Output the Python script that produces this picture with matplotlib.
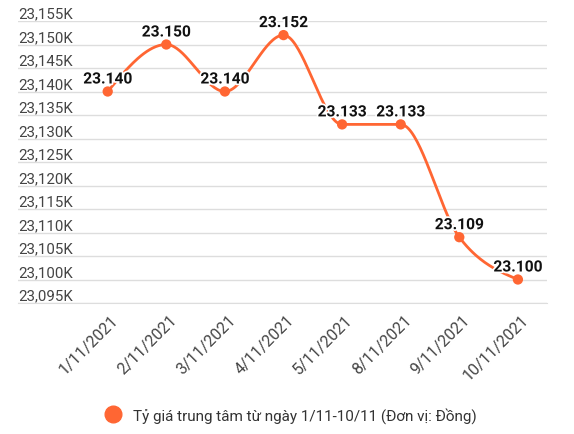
import numpy as np
import matplotlib
matplotlib.use("Agg")
import matplotlib.pyplot as plt
from matplotlib.transforms import ScaledTranslation
import matplotlib.patheffects as pe
from matplotlib.lines import Line2D

plt.rcParams['font.family'] = ['Roboto', 'DejaVu Sans']

categories = ["1/11/2021", "2/11/2021", "3/11/2021", "4/11/2021",
              "5/11/2021", "8/11/2021", "9/11/2021", "10/11/2021"]
values = [23140, 23150, 23140, 23152, 23133, 23133, 23109, 23100]
point_labels = ["23.140", "23.150", "23.140", "23.152", "23.133", "23.133", "23.109", "23.100"]
yticks = [23095, 23100, 23105, 23110, 23115, 23120, 23125, 23130,
          23135, 23140, 23145, 23150, 23155]
series_name = "Tỷ giá trung tâm từ ngày 1/11-10/11 (Đơn vị: Đồng)"

COLOR = "#ff6633"


def monotone_x(x, y, n=40):
    x = np.asarray(x, float)
    y = np.asarray(y, float)
    k = len(x)
    h = np.diff(x)
    s = np.diff(y) / h
    t = np.zeros(k)
    for i in range(1, k - 1):
        s0, s1 = s[i - 1], s[i]
        p = (s0 * h[i] + s1 * h[i - 1]) / (h[i - 1] + h[i])
        t[i] = (np.sign(s0) + np.sign(s1)) * min(abs(s0), abs(s1), 0.5 * abs(p))
    t[0] = (3 * s[0] - t[1]) / 2
    t[-1] = (3 * s[-1] - t[-2]) / 2
    xs, ys = [], []
    for i in range(k - 1):
        u = np.linspace(0, 1, n)
        dx = h[i]
        h00 = 2 * u**3 - 3 * u**2 + 1
        h10 = u**3 - 2 * u**2 + u
        h01 = -2 * u**3 + 3 * u**2
        h11 = u**3 - u**2
        yy = h00 * y[i] + h10 * dx * t[i] + h01 * y[i + 1] + h11 * dx * t[i + 1]
        xs.append(x[i] + u * dx)
        ys.append(yy)
    return np.concatenate(xs), np.concatenate(ys)


W, H = 574, 435
fig = plt.figure(figsize=(W / 100, H / 100), dpi=100)
left, right, top, bottom = 18, 547, 22, 304
ax = fig.add_axes([left / W, 1 - bottom / H, (right - left) / W, (bottom - top) / H])

xpos = np.arange(len(categories))
step = 58.6
x0px = 107.7
ax.set_xlim(-(x0px - left) / step, (len(categories) - 1) + (right - (x0px + step * (len(categories) - 1))) / step)
ax.set_ylim(yticks[0], yticks[-1])

sx, sy = monotone_x(xpos, values)
ax.plot(sx, sy, color=COLOR, lw=2, zorder=3, solid_capstyle='round')
ax.scatter(xpos, values, s=55, color=COLOR, zorder=4, edgecolors='none')

for xi, v, lab in zip(xpos, values, point_labels):
    ax.annotate(lab, (xi, v), xytext=(0, 9), textcoords='offset points',
                ha='center', va='center', fontsize=11.2, fontweight='bold',
                color='#111111', zorder=5,
                path_effects=[pe.withStroke(linewidth=2.5, foreground='white')])

ax.set_yticks(yticks)
ax.set_yticklabels([f"{v:,}K" for v in yticks])
ax.yaxis.grid(True, color='#dddddd', lw=1)
ax.set_axisbelow(True)
ax.tick_params(axis='y', length=0, pad=0, labelsize=10.8, labelcolor='#444444')
for lab in ax.get_yticklabels():
    lab.set_horizontalalignment('left')
    lab.set_transform(lab.get_transform() + ScaledTranslation(0, 0.09, fig.dpi_scale_trans))

ax.set_xticks(xpos)
ax.set_xticklabels(categories, rotation=45, ha='right', rotation_mode='anchor')
ax.tick_params(axis='x', length=0, pad=6, labelsize=11.5, labelcolor='#444444')
for lab in ax.get_xticklabels():
    lab.set_transform(lab.get_transform() + ScaledTranslation(0.03, 0, fig.dpi_scale_trans))

for s in ['top', 'right', 'left']:
    ax.spines[s].set_visible(False)
ax.spines['bottom'].set_color('#dddddd')

handle = Line2D([], [], marker='o', ls='none', color=COLOR, markersize=12)
fig.legend([handle], [series_name], loc='center', bbox_to_anchor=(0.5, 1 - 416 / H),
           frameon=False, fontsize=11, handletextpad=0.3, labelcolor='#333333')

fig.savefig("out.png", dpi=100)
